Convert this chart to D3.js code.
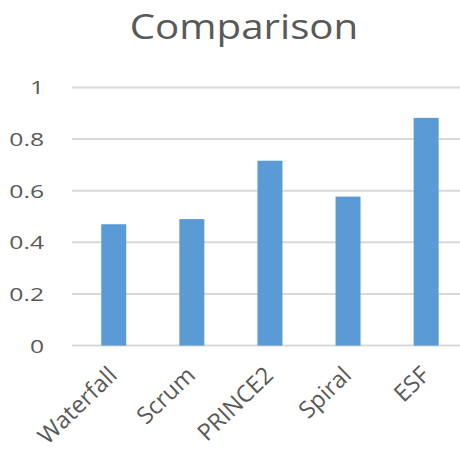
<!DOCTYPE html>
<html><head><meta charset="utf-8">
<script src="https://cdn.jsdelivr.net/npm/d3@7"></script>
<style>body{margin:0;background:#fff}svg{display:block}text{font-family:"Open Sans",sans-serif;fill:#595959}</style>
</head><body>
<script>
const categories = ["Waterfall","Scrum","PRINCE2","Spiral","ESF"];
const values = [0.47, 0.49, 0.716, 0.577, 0.882];
const yTicks = [0, 0.2, 0.4, 0.6, 0.8, 1];
const title = "Comparison";

const W = 460, H = 453;
const svg = d3.select("body").append("svg").attr("width", W).attr("height", H);
const x = d3.scaleBand().domain(categories).range([74.7, 465.2]).paddingInner(0.68).paddingOuter(0.34);
const y = d3.scaleLinear().domain([0, 1]).range([345.6, 87.4]);

svg.append("g").selectAll("line").data(yTicks).join("line")
  .attr("x1", 72).attr("x2", 460)
  .attr("y1", d => y(d)).attr("y2", d => y(d))
  .attr("stroke", "#d9d9d9").attr("stroke-width", 2);

svg.append("g").selectAll("rect").data(categories).join("rect")
  .attr("x", d => x(d)).attr("width", x.bandwidth())
  .attr("y", (d,i) => y(values[i])).attr("height", (d,i) => y(0) - y(values[i]))
  .attr("fill", "#5b9bd5");

svg.append("g").selectAll("text").data(yTicks).join("text")
  .attr("text-anchor", "end")
  .attr("transform", d => `translate(44,${y(d)+7}) scale(1.3,1)`)
  .attr("font-size", 19)
  .text(d => d === 0 || d === 1 ? String(d) : d.toFixed(1));

svg.append("g").selectAll("text").data(categories).join("text")
  .attr("text-anchor", "end")
  .attr("transform", d => `translate(${x(d) + x.bandwidth()/2 - 1},371) rotate(-44)`)
  .attr("dy", "0.35em")
  .attr("font-size", 23.5)
  .text(d => d);

svg.append("text").attr("text-anchor", "middle")
  .attr("transform", "translate(244,39) scale(1.15,1)")
  .attr("font-size", 35)
  .text(title);
</script>
</body></html>
